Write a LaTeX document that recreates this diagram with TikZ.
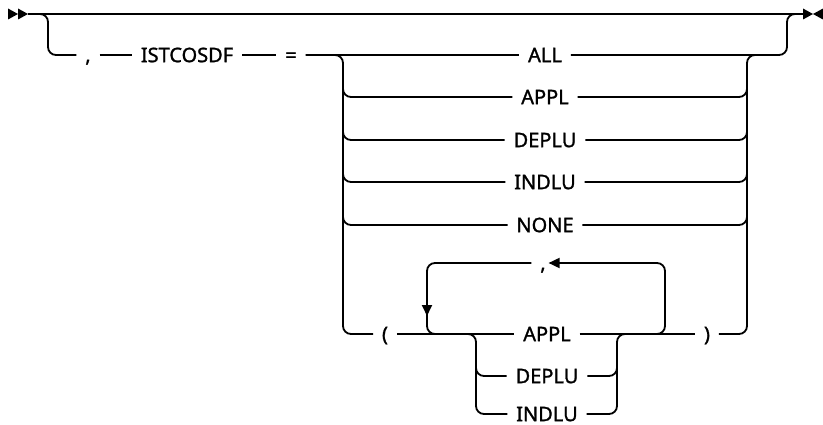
\documentclass[tikz,border=0pt]{standalone}
\usepackage{fontspec}
\setmainfont{Noto Sans}[UprightFeatures={FakeBold=1.3}]
\usetikzlibrary{arrows.meta}
\begin{document}
\begin{tikzpicture}[x=1pt,y=-1pt,line width=1.8pt,
  rc/.style={rounded corners=8pt},
  kw/.style={inner sep=0pt,font=\fontsize{20}{24}\selectfont,anchor=center,text height=14.3pt,text depth=0pt}]
\useasboundingbox (0,0) rectangle (823,425);
% start / end marks
\coordinate (s1) at (28,14);
\coordinate (e0) at (803,14);
\fill (8,8.5) -- (18,14) -- (8,19.5) -- cycle;
\fill (18,8.5) -- (28,14) -- (18,19.5) -- cycle;
\fill (803,8.5) -- (813,14) -- (803,19.5) -- cycle;
\fill (823,8.5) -- (813,14) -- (823,19.5) -- cycle;
\draw (s1) -- (e0);
% labels
\node[kw] (comma) at (88,55) {,};
\node[kw] (ist) at (187,55) {ISTCOSDF};
\node[kw] (eq) at (291,55) {=};
\node[kw] (all) at (545,55) {ALL};
\node[kw] (appl) at (545,97) {APPL};
\node[kw] (deplu) at (545,140) {DEPLU};
\node[kw] (indlu) at (545,182) {INDLU};
\node[kw] (none) at (545,225) {NONE};
\node[kw] (lp) at (385,334) {(};
\node[kw] (appl2) at (547,334) {APPL};
\node[kw] (rp) at (707,334) {)};
\node[kw] (lcomma) at (543,263) {,};
\node[kw] (deplu2) at (547,376) {DEPLU};
\node[kw] (indlu2) at (547,414) {INDLU};
% left optional branch
\draw[rc] (36,14) -| (48,55) -- ([xshift=-8pt]comma.west);
\draw ([xshift=8pt]comma.east) -- ([xshift=-8pt]ist.west);
\draw ([xshift=8pt]ist.east) -- ([xshift=-8pt]eq.west);
\draw[rc] ([xshift=8pt]eq.east) -- (343,55) -- (343,334) -- ([xshift=-8pt]lp.west);
\draw ([xshift=8pt]eq.east) -- ([xshift=-8pt]all.west);
\foreach \n/\yy in {appl/97,deplu/140,indlu/182,none/225}{
  \draw[rc] (343,\yy-12) |- ([xshift=-8pt]\n.west);
  \draw[rc] ([xshift=8pt]\n.east) -| (747,\yy-12);
}
\draw[rc] ([xshift=8pt]rp.east) -- (747,334) -- (747,55) -- (760,55);
\draw[rc] ([xshift=8pt]all.east) -- (787,55) -- (787,14) -- (797,14);
% paren row
\draw ([xshift=8pt]lp.east) -- ([xshift=-8pt]appl2.west);
\draw ([xshift=8pt]appl2.east) -- ([xshift=-8pt]rp.west);
% repeat loop
\draw[rc,-{Triangle[width=10pt,length=11pt]}] (650,334) -- (665,334) -- (665,263) -- ([xshift=2pt]lcomma.east);
\draw[rc,-{Triangle[width=10pt,length=11pt]}] ([xshift=-8pt]lcomma.west) -- (427,263) -- (427,316);
\draw[rc] (427,310) -- (427,334) -- (445,334);
% inner choice
\draw[rc] (460,334) -- (476,334) -- (476,414) -- ([xshift=-8pt]indlu2.west);
\draw[rc] (476,364) |- ([xshift=-8pt]deplu2.west);
\draw[rc] ([xshift=8pt]indlu2.east) -- (617,414) -- (617,334) -- (632,334);
\draw[rc] ([xshift=8pt]deplu2.east) -| (617,364);
\end{tikzpicture}
\end{document}
